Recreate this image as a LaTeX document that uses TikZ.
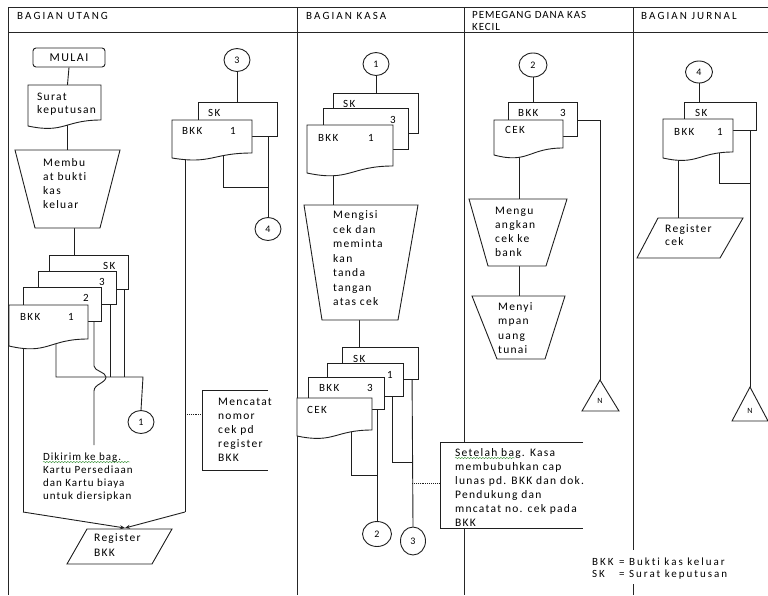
\documentclass[tikz,border=0pt]{standalone}
\usepackage{fontspec}
\setmainfont{Carlito}[LetterSpace=11, Ligatures=NoCommon]
\usetikzlibrary{shapes.geometric,arrows.meta,decorations.pathmorphing}

% document symbol with a wavy bottom edge: left, top, right, right-bottom, left-bottom
\newcommand\docfront[5]{\draw[fl] (#1,#2) -- (#3,#2) -- (#3,#4)
  .. controls ({(#1+#3)/2},#4) and ({(#1+#3)/2},{#5+1.31*(#5-#4)}) .. (#1,#5) -- cycle;}
% copy lying behind the front document
\newcommand\docback[4]{\draw[fl] (#1,#2) rectangle (#3,#4);}
% type sizes with their tracking
\newcommand\bodyfont[1]{\fontsize{11.5}{#1}\selectfont}
\newcommand\labelfont{\fontsize{11}{12}\selectfont\addfontfeature{LetterSpace=12}}
\newcommand\headfont{\fontsize{11}{13}\selectfont\addfontfeature{LetterSpace=19}}
\newcommand\keyfont{\fontsize{11}{12}\selectfont\addfontfeature{LetterSpace=18}}

\begin{document}
\begin{tikzpicture}[x=1pt,y=-1pt,
  ink/.style={draw=black!88, line width=0.9pt},
  fl/.style={ink, fill=white},
  wire/.style={ink},
  lane/.style={draw=black!85, line width=0.9pt},
  conn/.style={ink, fill=white, ellipse, inner sep=0pt, minimum width=26pt,
    minimum height=23pt, text=black, font=\fontsize{10}{11}\selectfont},
  term/.style={ink, rounded corners=3pt, minimum width=72pt, minimum height=19pt,
    inner sep=0pt, text=black, font={\fontsize{12}{13}\selectfont\addfontfeature{LetterSpace=12}}},
  lbl/.style={anchor=base west, inner sep=0pt, text=black, font=\labelfont},
  hdr/.style={anchor=base west, inner sep=0pt, text=black, font=\headfont},
  blk/.style={anchor=north west, inner sep=0pt, align=left, text=black},
  note/.style={ink, densely dotted},
  squiggle/.style={draw=green!45!black!75, line width=0.45pt, decorate,
    decoration={snake, amplitude=0.7pt, segment length=3pt}},
  tip/.style={wire, -{Stealth[length=5pt,width=4pt]}},
]
\useasboundingbox (0,0) rectangle (768,595);

% ---------- swimlanes ----------
\draw[lane] (8,7) -- (768,7);
\draw[lane] (8,32) -- (768,32);
\draw[lane] (8,7) -- (8,595);
\draw[lane] (297,7) -- (297,595);
\draw[lane] (464,7) -- (464,442);
\draw[lane] (464,528) -- (464,595);
\draw[lane] (633,7) -- (633,550);
\draw[lane] (633,584) -- (633,595);

\node[hdr] (h1) at (17,19) {BAGIAN UTANG};
\node[hdr] (h2) at (306,19) {BAGIAN KASA};
\node[hdr, font={\fontsize{11}{13}\selectfont\addfontfeature{LetterSpace=8}}] (h3a) at (472,18) {PEMEGANG DANA KAS};
\node[hdr, font={\fontsize{11}{13}\selectfont\addfontfeature{LetterSpace=8}}] (h3b) at (472,30.5) {KECIL};
\node[hdr] (h4) at (641,19) {BAGIAN JURNAL};

% ---------- connectors and off-page marks ----------
\node[term] (mulai) at (69,57.5) {MULAI};
\node[conn] (k3a) at (237,60) {3};
\node[conn] (k4a) at (268,229) {4};
\node[conn] (k1a) at (141,422) {1};
\node[conn] (k1b) at (376,64) {1};
\node[conn, minimum width=29pt, minimum height=25pt] (k2b) at (377,534) {2};
\node[conn, minimum width=25pt, minimum height=28pt] (k3b) at (413,541) {3};
\node[conn, minimum width=28pt, minimum height=24pt] (k2c) at (533,65) {2};
\node[conn, minimum width=27pt, minimum height=22pt] (k4d) at (699,72) {4};

\coordinate (rb) at (125,528);

% BAGIAN UTANG flows
\draw[wire] (mulai.south) -- (67,90);
\draw[wire] (67,120) -- (67,155);
\draw[wire] (74,220) -- (74,260);
\draw[wire] (23,330) -- (23,512);
\draw[wire] (185,150) -- (185,512);
\draw[wire] (56,330) -- (56,377) -- (143,377) -- (k1a.north);
\draw[wire] (110,300) -- (110,377);
\draw[wire] (124,285) -- (124,377);
\draw[wire] (94,315) -- (94,366) .. controls (94,371) and (106,372) .. (106,377)
  .. controls (106,383) and (94,384) .. (94,391) -- (94,445);
\draw[wire] (k3a.south) -- (237,105);
\draw[wire] (223,150) -- (223,187) -- (268,187);
\draw[wire] (268,130) -- (k4a.north);

% BAGIAN KASA flows
\draw[wire] (k1b.south) -- (376,96);
\draw[wire] (333,165) -- (333,210);
\draw[wire] (359,315) -- (359,350);
\draw[wire] (351,425) -- (351,475) -- (377,475);
\draw[wire] (377,400) -- (k2b.north);
\draw[wire] (392,390) -- (392,462) -- (412,462);
\draw[wire] (412,370) -- (k3b.north);

% PEMEGANG DANA KAS KECIL flows
\draw[wire] (k2c.south) -- (533,105);
\draw[wire] (570,120) -- (600,120) -- (600,380);
\draw[wire] (519,150) -- (519,205);
\draw[wire] (519,260) -- (519,300);

% BAGIAN JURNAL flows
\draw[wire] (k4d.south) -- (699,105);
\draw[wire] (678,150) -- (678,222);
\draw[wire] (719,148) -- (719,183) -- (750,183);
\draw[wire] (750,125) -- (750,387);

% ---------- symbols ----------
% BAGIAN UTANG
\docfront{28}{85}{101}{120}{126}
\draw[fl] (15,150) -- (120,150) -- (100,228) -- (35,228) -- cycle;
\docback{49}{255}{128}{289}
\docback{38}{271}{116}{304}
\docback{23}{287}{101}{321}
\docfront{9}{305}{88}{339}{346}
\docback{198}{102}{277}{136}
\docfront{172}{120}{252}{153}{158}
\draw[fl] (87,529) -- (172,529) -- (152,564) -- (67,564) -- cycle;

% BAGIAN KASA
\docback{333}{93}{418}{133}
\docback{323}{108}{408}{149}
\docfront{307}{125}{393}{166}{173}
\draw[fl] (304,205) -- (418,205) -- (398,320) -- (322,320) -- cycle;
\docback{342}{347}{418}{379}
\docback{327}{363}{403}{396}
\docback{308}{377}{384}{409}
\docfront{297}{398}{372}{430}{436}

% PEMEGANG DANA KAS KECIL
\docback{508}{102}{577}{136}
\docfront{494}{120}{563}{148}{155}
\draw[fl] (469,199) -- (567,199) -- (546,266) -- (488,266) -- cycle;
\draw[fl] (472,296) -- (565,296) -- (545,359) -- (497,359) -- cycle;
\draw[fl] (600,380) -- (619,411) -- (582,411) -- cycle;

% BAGIAN JURNAL
\docback{684}{102}{756}{130}
\docfront{663}{119}{733}{152}{158}
\draw[fl] (658,218) -- (743,218) -- (720,258) -- (637,258) -- cycle;
\draw[fl] (750,387) -- (768,421) -- (732,421) -- cycle;

% ---------- arrows into the register ----------
\draw[tip] (23,512) -- (rb);
\draw[tip] (185,512) -- (rb);

% ---------- comments ----------
\draw[note] (185,414) -- (202,414);
\draw[ink] (268,390) -- (202,390) -- (202,470) -- (268,470);
\draw[note] (412,483) -- (440,483);
\draw[ink] (583,442) -- (440,442) -- (440,528) -- (583,528);

% ---------- texts ----------
\node[blk, font=\bodyfont{13}] (tsk) at (37,90.9) {\strut Surat\\keputusan};
\node[blk, font=\bodyfont{14}] (tbkk) at (43,156.2) {\strut Membu\\at bukti\\kas\\keluar};
\node[lbl] (a1) at (103,269) {SK};
\node[lbl] (a2) at (99,285) {3};
\node[lbl] (a3) at (83,301) {2};
\node[lbl] (a4) at (20,320) {\makebox[48pt][l]{BKK}1};
\node[lbl] (b1) at (208,116.5) {SK};
\node[lbl] (b2) at (182,134.5) {\makebox[48pt][l]{BKK}1};
\node[blk, font={\fontsize{11}{13}\selectfont\addfontfeature{LetterSpace=9}}] (tkirim) at (43,450.9)
  {\strut Dikirim ke bag.\\Kartu Persediaan\\dan Kartu biaya\\untuk diersipkan};
\draw[squiggle] (43,462) -- (130,462);
\node[blk, font=\bodyfont{14}] (tcatat) at (218,395.2)
  {\strut Mencatat\\nomor\\cek pd\\register\\BKK};
\node[blk, font=\bodyfont{15}] (treg) at (94,530.5) {\strut Register\\BKK};

\node[lbl] (c1) at (343,107) {SK};
\node[lbl] (c2) at (390,123) {3};
\node[lbl] (c3) at (318,141) {\makebox[50pt][l]{BKK}1};
\node[blk, font=\bodyfont{14.5}] (tisi) at (333,208.4)
  {\strut Mengisi\\cek dan\\meminta\\kan\\tanda\\tangan\\atas cek};
\node[lbl] (c4) at (353,362) {SK};
\node[lbl] (c5) at (387,378) {1};
\node[lbl] (c6) at (319,391) {\makebox[48pt][l]{BKK}3};
\node[lbl] (c7) at (307,413) {CEK};
\node[blk, font=\bodyfont{14}] (tlunas) at (455,446.2)
  {\strut Setelah bag. Kasa\\membubuhkan cap\\lunas pd. BKK dan dok.\\Pendukung dan\\mncatat no. cek pada\\BKK};
\draw[squiggle] (455,458) -- (515,458);

\node[lbl] (d1) at (518,116.5) {\makebox[42pt][l]{BKK}3};
\node[lbl] (d2) at (505,133) {CEK};
\node[blk, font=\bodyfont{14}] (tuang) at (495,204.2) {\strut Mengu\\angkan\\cek ke\\bank};
\node[blk, font=\bodyfont{14.5}] (ttunai) at (498,299.9) {\strut Menyi\\mpan\\uang\\tunai};
\node[font=\fontsize{8}{9}\selectfont, text=black, inner sep=0pt] (n1) at (600,401) {N};

\node[lbl] (e1) at (695,116.5) {SK};
\node[lbl] (e2) at (674,135.5) {\makebox[43pt][l]{BKK}1};
\node[blk, font=\bodyfont{13}] (tcek) at (665,222.9) {\strut Register\\cek};
\node[font=\fontsize{8}{9}\selectfont, text=black, inner sep=0pt] (n2) at (750,411) {N};

% legend
\node[lbl, font=\keyfont] (g1) at (592,565) {\makebox[27pt][l]{BKK}= Bukti kas keluar};
\node[lbl, font=\keyfont] (g2) at (592,577) {\makebox[27pt][l]{SK}= Surat keputusan};
\end{tikzpicture}
\end{document}
